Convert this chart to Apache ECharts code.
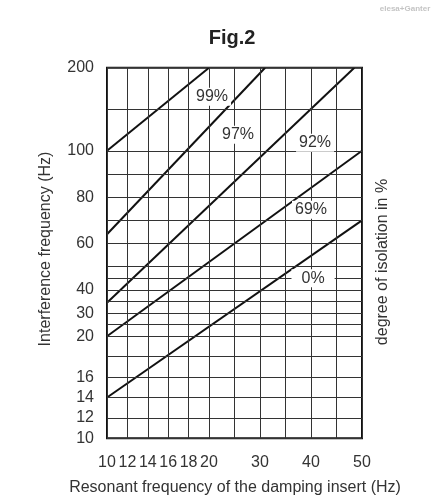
<!DOCTYPE html>
<html>
<head>
<meta charset="utf-8">
<script src="https://cdn.jsdelivr.net/npm/echarts@6/dist/echarts.min.js"></script>
<style>
  html, body { margin: 0; padding: 0; background: #fff; }
  #chart { width: 438px; height: 500px; }
</style>
</head>
<body>
<div id="chart"></div>
<script>
// nomogram axes are piecewise linear: knots and their offsets along the axis
const xKnots = [10, 20, 50]
const xKnotPos = [0, 102, 255]
const yKnots = [10, 20, 100, 200]
const yKnotPos = [0, 102, 287.5, 370.6]

const xGrid = [10, 12, 14, 16, 18, 20, 25, 30, 35, 40, 45, 50]
const xTickLabels = [10, 12, 14, 16, 18, 20, 30, 40, 50]
const yGrid = [10, 12, 14, 16, 18, 20, 25, 30, 35, 40, 45, 50, 60, 70, 80, 90, 100, 150, 200]
const yTickLabels = [10, 12, 14, 16, 20, 30, 40, 60, 80, 100, 200]

// isolation curves (start / end of each straight line)
const curveNames = ['99%', '97%', '92%', '69%', '0%']
const curveX = [[10, 20], [10, 31], [10, 48.5], [10, 50], [10, 50]]
const curveY = [[100, 200], [64, 200], [34.5, 200], [20, 100], [14, 70]]

// where the percentage tags sit
const tagNames = ['99%', '97%', '92%', '69%', '0%']
const tagX = [20.6, 25.7, 40.8, 40, 40.4]
const tagY = [165, 119.4, 109.8, 74.6, 45]

const narrow = "'Liberation Sans Narrow', 'Arial Narrow', 'Liberation Sans', sans-serif"
const regular = "'Liberation Sans', Arial, sans-serif"

function warp(v, knots, pos) {
  for (let i = 1; i < knots.length; i++) {
    if (v <= knots[i] || i === knots.length - 1) {
      const t = (v - knots[i - 1]) / (knots[i] - knots[i - 1])
      return pos[i - 1] + t * (pos[i] - pos[i - 1])
    }
  }
}
function unwarp(p, knots, pos) {
  for (let i = 1; i < pos.length; i++) {
    if (p <= pos[i] + 0.001 || i === pos.length - 1) {
      const t = (p - pos[i - 1]) / (pos[i] - pos[i - 1])
      return knots[i - 1] + t * (knots[i] - knots[i - 1])
    }
  }
}
const wx = v => warp(v, xKnots, xKnotPos)
const wy = v => warp(v, yKnots, yKnotPos)

const gridLines = []
xGrid.forEach(v => gridLines.push({ xAxis: wx(v) }))
yGrid.forEach(v => gridLines.push({ yAxis: wy(v) }))

const curveSeries = curveNames.map((name, i) => ({
  name: name,
  type: 'line',
  z: 3,
  symbol: 'none',
  silent: true,
  lineStyle: { color: '#111', width: 2 },
  data: curveX[i].map((x, j) => [wx(x), wy(curveY[i][j])])
}))

const chart = echarts.init(document.getElementById('chart'))
chart.setOption({
  animation: false,
  grid: {
    left: 107,
    right: 76,
    top: 67.7,
    bottom: 61.7,
    show: true,
    borderColor: '#111',
    borderWidth: 2
  },
  xAxis: {
    type: 'value',
    min: 0,
    max: wx(50),
    axisLine: { show: false },
    axisTick: { show: false },
    splitLine: { show: false },
    axisLabel: {
      customValues: xTickLabels.map(wx),
      formatter: v => Math.round(unwarp(v, xKnots, xKnotPos)),
      margin: 16,
      fontFamily: narrow,
      fontSize: 16,
      color: '#333'
    }
  },
  yAxis: {
    type: 'value',
    min: 0,
    max: wy(200),
    axisLine: { show: false },
    axisTick: { show: false },
    splitLine: { show: false },
    axisLabel: {
      customValues: yTickLabels.map(wy),
      formatter: v => Math.round(unwarp(v, yKnots, yKnotPos)),
      margin: 13,
      fontFamily: narrow,
      fontSize: 16,
      color: '#333'
    }
  },
  graphic: [
    {
      type: 'text', x: 232, y: 38,
      style: { text: 'Fig.2', fontFamily: regular, fontSize: 20, fontWeight: 'bold', fill: '#222', align: 'center', verticalAlign: 'middle' }
    },
    {
      type: 'text', x: 46, y: 249, rotation: Math.PI / 2,
      style: { text: 'Interference frequency (Hz)', fontFamily: regular, fontSize: 16, fill: '#333', align: 'center', verticalAlign: 'middle' }
    },
    {
      type: 'text', x: 383, y: 262, rotation: Math.PI / 2,
      style: { text: 'degree of isolation in %', fontFamily: regular, fontSize: 16, fill: '#333', align: 'center', verticalAlign: 'middle' }
    },
    {
      type: 'text', x: 235, y: 488,
      style: { text: 'Resonant frequency of the damping insert (Hz)', fontFamily: regular, fontSize: 16, fill: '#333', align: 'center', verticalAlign: 'middle' }
    },
    {
      type: 'text', x: 405, y: 9,
      style: { text: 'elesa+Ganter', fontFamily: regular, fontSize: 8, fontWeight: 'bold', fill: '#c4c4c4', align: 'center', verticalAlign: 'middle' }
    }
  ],
  series: [
    {
      name: 'grid',
      type: 'line',
      z: 1,
      data: [],
      markLine: {
        silent: true,
        symbol: ['none', 'none'],
        label: { show: false },
        lineStyle: { type: 'solid', color: '#333', width: 1 },
        data: gridLines
      }
    },
    ...curveSeries,
    {
      name: 'tags',
      type: 'scatter',
      z: 5,
      silent: true,
      symbolSize: 0,
      itemStyle: { color: '#333', opacity: 1 },
      label: {
        show: true,
        position: 'inside',
        formatter: '{b}',
        fontFamily: narrow,
        fontSize: 16,
        color: '#333',
        opacity: 1,
        backgroundColor: '#fff'
      },
      data: tagNames.map((n, i) => ({
        name: n,
        value: [wx(tagX[i]), wy(tagY[i])],
        label: { padding: n === '0%' ? [1, 10] : [1, 3] }
      }))
    }
  ]
})
</script>
</body>
</html>
